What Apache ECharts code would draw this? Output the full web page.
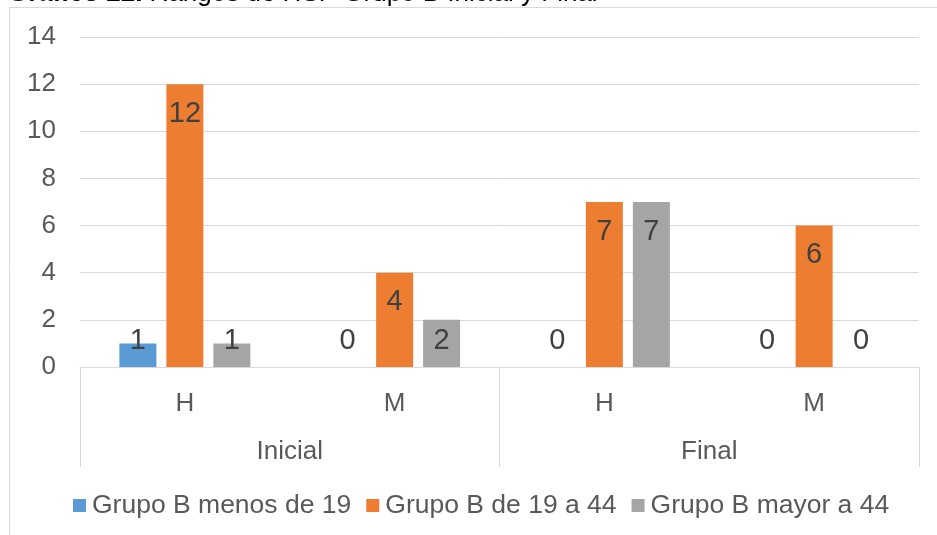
<!DOCTYPE html>
<html>
<head>
<meta charset="utf-8">
<script src="https://cdn.jsdelivr.net/npm/echarts@6/dist/echarts.min.js"></script>
<style>
html,body{margin:0;padding:0;background:#fff;}
#main{width:937px;height:535px;}
</style>
</head>
<body>
<div id="main"></div>
<script>
// datos del gráfico
var subCats = ['H', 'M', 'H', 'M'];
var groupCats = ['Inicial', 'Final'];
var seriesNames = ['Grupo B menos de 19', 'Grupo B de 19 a 44', 'Grupo B mayor a 44'];
var menos19 = [1, 0, 0, 0];
var de19a44 = [12, 4, 7, 6];
var mayor44 = [1, 2, 7, 0];
var yTicks = [0, 2, 4, 6, 8, 10, 12, 14];

var colores = ['#5b9bd5', '#ed7d31', '#a5a5a5'];
var fuente = '"Liberation Sans", Arial, sans-serif';

// etiqueta dentro del extremo, si la barra es corta va abajo
function puntos(arr){
    var res = [];
    for(var i=0;i<arr.length;i++){
        var corta = arr[i] < 3;
        res.push({
            value: arr[i],
            label: {
                position: corta ? 'insideBottom' : 'insideTop',
                distance: corta ? 12 : 15
            }
        });
    }
    return res;
}

function series(){
    var datos = [menos19, de19a44, mayor44];
    var sers = [];
    for(var i=0;i<datos.length;i++){
        sers.push({
            name: seriesNames[i],
            type: 'bar',
            xAxisIndex: 0,
            barWidth: 37,
            barGap: '27%',
            itemStyle: {color: colores[i]},
            label: {
                show: true,
                color: '#404040',
                fontSize: 29,
                fontFamily: fuente
            },
            data: puntos(datos[i])
        });
    }
    return sers;
}

var myChart = echarts.init(document.getElementById('main'));
var option = {
    animation: false,
    textStyle: {fontFamily: fuente},
    graphic: [
        {
            type: 'rect',
            shape: {x: 9.5, y: 7.5, width: 960, height: 560},
            style: {fill: 'none', stroke: '#d9d9d9', lineWidth: 1}
        },
        {
            type: 'text',
            x: 8,
            y: -6,
            style: {
                text: '{b|Gráfico 22.} Rangos de HSP Grupo B Inicial y Final',
                fontFamily: fuente,
                fontSize: 26,
                fill: '#000',
                verticalAlign: 'middle',
                rich: {b: {fontWeight: 'bold', fontSize: 26, fontFamily: fuente, fill: '#000'}}
            }
        }
    ],
    grid: {left: 80, right: 18, top: 37, bottom: 168},
    legend: {
        data: seriesNames,
        left: 73,
        top: 492,
        padding: 0,
        icon: 'rect',
        itemWidth: 13,
        itemHeight: 13,
        itemGap: 15,
        textStyle: {color: '#595959', fontSize: 26.5, fontFamily: fuente, padding: [0, 0, 0, 1]}
    },
    xAxis: [
        {
            type: 'category',
            position: 'bottom',
            data: subCats,
            axisLine: {lineStyle: {color: '#d9d9d9'}},
            axisTick: {show: false},
            axisLabel: {color: '#595959', fontSize: 26, margin: 24}
        },
        {
            type: 'category',
            position: 'bottom',
            data: groupCats,
            axisLine: {show: false},
            axisTick: {show: true, length: 100, lineStyle: {color: '#d9d9d9'}},
            axisLabel: {color: '#595959', fontSize: 26, margin: 72}
        }
    ],
    yAxis: {
        type: 'value',
        min: yTicks[0],
        max: yTicks[yTicks.length-1],
        interval: yTicks[1]-yTicks[0],
        axisLine: {show: false},
        axisTick: {show: false},
        splitLine: {lineStyle: {color: '#d9d9d9'}},
        axisLabel: {color: '#595959', fontSize: 26, margin: 24}
    },
    series: series()
};
myChart.setOption(option);
</script>
</body>
</html>
